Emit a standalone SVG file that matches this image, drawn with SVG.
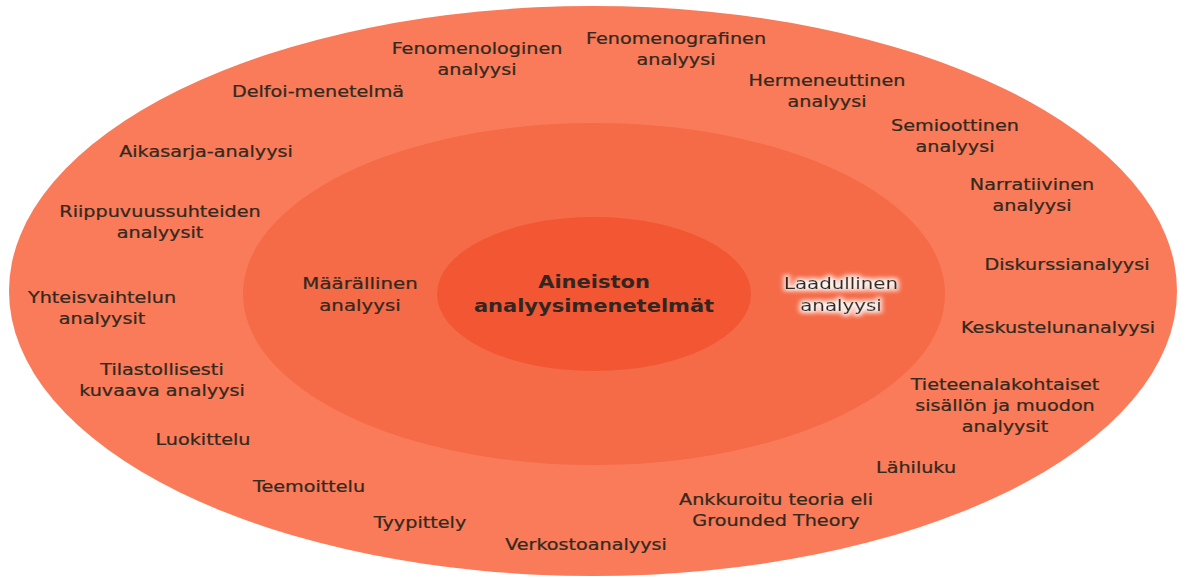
<svg xmlns="http://www.w3.org/2000/svg" width="1186" height="578" viewBox="0 0 1186 578">
<defs>
<style>
.lbl{font-family:"DejaVu Sans","Verdana",sans-serif;font-size:16px;fill:#33291f;stroke:#33291f;stroke-width:0.25;text-anchor:middle}
.mid{font-size:16.5px}
.core{font-family:"DejaVu Sans","Verdana",sans-serif;font-size:17.5px;font-weight:bold;fill:#33251f;text-anchor:middle}
</style>
<filter id="glow" x="-20%" y="-40%" width="140%" height="180%">
<feMorphology in="SourceAlpha" operator="dilate" radius="1.5" result="d"/>
<feGaussianBlur in="d" stdDeviation="2.2" result="b"/>
<feFlood flood-color="#ffffff" flood-opacity="0.9"/>
<feComposite in2="b" operator="in" result="g"/>
<feMerge><feMergeNode in="g"/><feMergeNode in="SourceGraphic"/></feMerge>
</filter>
</defs>
<rect width="1186" height="578" fill="#ffffff"/>
<g id="outer-ring"><ellipse cx="593" cy="291" rx="584" ry="285" fill="#fa7b59"/></g>
<g id="middle-ring"><ellipse cx="594" cy="294" rx="351" ry="171" fill="#f56a47"/></g>
<g id="core"><ellipse cx="594" cy="294" rx="157" ry="77" fill="#f25633"/>
<text class="core" transform="translate(594 288) scale(1.2 1)"><tspan x="0">Aineiston</tspan><tspan x="0" dy="24">analyysimenetelmät</tspan></text></g>
<g id="maarallinen"><text class="lbl mid" transform="translate(360 289) scale(1.2 1)"><tspan x="0">Määrällinen</tspan><tspan x="0" dy="22">analyysi</tspan></text></g>
<g id="laadullinen"><text class="lbl mid" filter="url(#glow)" transform="translate(841 289) scale(1.2 1)"><tspan x="0">Laadullinen</tspan><tspan x="0" dy="22">analyysi</tspan></text></g>
<g id="fenomenologinen"><text class="lbl" transform="translate(477 54) scale(1.2 1)"><tspan x="0">Fenomenologinen</tspan><tspan x="0" dy="21">analyysi</tspan></text></g>
<g id="fenomenografinen"><text class="lbl" transform="translate(676 44) scale(1.2 1)"><tspan x="0">Fenomenografinen</tspan><tspan x="0" dy="21">analyysi</tspan></text></g>
<g id="delfoi"><text class="lbl" transform="translate(318 97) scale(1.2 1)">Delfoi-menetelmä</text></g>
<g id="hermeneuttinen"><text class="lbl" transform="translate(827 86) scale(1.2 1)"><tspan x="0">Hermeneuttinen</tspan><tspan x="0" dy="21">analyysi</tspan></text></g>
<g id="aikasarja"><text class="lbl" transform="translate(206 157) scale(1.2 1)">Aikasarja-analyysi</text></g>
<g id="semioottinen"><text class="lbl" transform="translate(955 131) scale(1.2 1)"><tspan x="0">Semioottinen</tspan><tspan x="0" dy="21">analyysi</tspan></text></g>
<g id="riippuvuus"><text class="lbl" transform="translate(160 217) scale(1.2 1)"><tspan x="0">Riippuvuussuhteiden</tspan><tspan x="0" dy="21">analyysit</tspan></text></g>
<g id="narratiivinen"><text class="lbl" transform="translate(1032 190) scale(1.2 1)"><tspan x="0">Narratiivinen</tspan><tspan x="0" dy="21">analyysi</tspan></text></g>
<g id="diskurssi"><text class="lbl" transform="translate(1067 270) scale(1.2 1)">Diskurssianalyysi</text></g>
<g id="yhteisvaihtelu"><text class="lbl" transform="translate(102 303) scale(1.2 1)"><tspan x="0">Yhteisvaihtelun</tspan><tspan x="0" dy="21">analyysit</tspan></text></g>
<g id="keskustelu"><text class="lbl" transform="translate(1058 333) scale(1.2 1)">Keskustelunanalyysi</text></g>
<g id="tilastollisesti"><text class="lbl" transform="translate(162 375) scale(1.2 1)"><tspan x="0">Tilastollisesti</tspan><tspan x="0" dy="21">kuvaava analyysi</tspan></text></g>
<g id="tieteenala"><text class="lbl" transform="translate(1005 390) scale(1.2 1)"><tspan x="0">Tieteenalakohtaiset</tspan><tspan x="0" dy="21">sisällön ja muodon</tspan><tspan x="0" dy="21">analyysit</tspan></text></g>
<g id="luokittelu"><text class="lbl" transform="translate(203 445) scale(1.2 1)">Luokittelu</text></g>
<g id="lahiluku"><text class="lbl" transform="translate(916 473) scale(1.2 1)">Lähiluku</text></g>
<g id="teemoittelu"><text class="lbl" transform="translate(309 492) scale(1.2 1)">Teemoittelu</text></g>
<g id="ankkuroitu"><text class="lbl" transform="translate(776 505) scale(1.2 1)"><tspan x="0">Ankkuroitu teoria eli</tspan><tspan x="0" dy="21">Grounded Theory</tspan></text></g>
<g id="tyypittely"><text class="lbl" transform="translate(420 528) scale(1.2 1)">Tyypittely</text></g>
<g id="verkosto"><text class="lbl" transform="translate(586 550) scale(1.2 1)">Verkostoanalyysi</text></g>
</svg>
